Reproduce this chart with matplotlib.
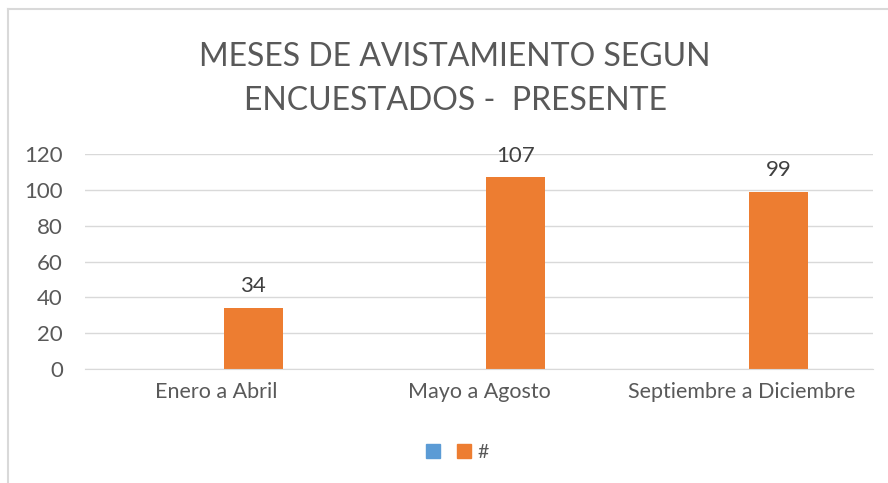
import matplotlib
matplotlib.use("Agg")
import matplotlib.pyplot as plt
import numpy as np
from matplotlib.patches import Patch

# datos
categorias = ["Enero a Abril", "Mayo a Agosto", "Septiembre a Diciembre"]
serie_vacia = [0, 0, 0]
serie_presente = [34, 107, 99]
y_ticks = [0, 20, 40, 60, 80, 100, 120]

AZUL = "#5B9BD5"
NARANJA = "#ED7D31"
GRIS_TXT = "#595959"
GRIS_LINEA = "#D9D9D9"

plt.rcParams["font.family"] = ["Lato", "DejaVu Sans"]

fig = plt.figure(figsize=(8.88, 4.83), dpi=100)
ax = fig.add_axes([85 / 888, 1 - 369 / 483, 788 / 888, 215 / 483])

x = np.arange(len(categorias))
ancho = 0.225
ax.bar(x - 0.14, serie_vacia, ancho, color=AZUL, linewidth=0)
barras = ax.bar(x + 0.14, serie_presente, ancho, color=NARANJA, linewidth=0)

for b, v in zip(barras, serie_presente):
    ax.text(b.get_x() + b.get_width() / 2, v + 6.5, str(v),
            ha="center", va="bottom", fontsize=16, color="#404040")

ax.set_xlim(-0.5, 2.5)
ax.set_ylim(0, 120)
ax.set_yticks(y_ticks)
ax.set_yticklabels([str(t) for t in y_ticks], fontsize=16, color=GRIS_TXT)
ax.set_xticks(x)
ax.set_xticklabels(categorias, fontsize=15.5, color=GRIS_TXT)
ax.tick_params(axis="both", length=0)
ax.tick_params(axis="x", pad=9)
ax.tick_params(axis="y", pad=16)
ax.grid(axis="y", color=GRIS_LINEA, linewidth=1)
ax.set_axisbelow(True)
for s in ["top", "right", "left"]:
    ax.spines[s].set_visible(False)
ax.spines["bottom"].set_color(GRIS_LINEA)

fig.text(455 / 888, 1 - 79 / 483, "MESES DE AVISTAMIENTO SEGUN\nENCUESTADOS -  PRESENTE",
         ha="center", va="center", fontsize=23, color=GRIS_TXT, linespacing=1.6)

handles = [Patch(color=AZUL, label=" "), Patch(color=NARANJA, label="#")]
fig.legend(handles=handles, loc="center", bbox_to_anchor=(457 / 888, 1 - 452 / 483),
           ncol=2, frameon=False, fontsize=14, handlelength=0.75, handleheight=0.75,
           columnspacing=0.3, handletextpad=0.3, labelcolor=GRIS_TXT)

# marco del gráfico
fig.add_artist(plt.Line2D([8 / 888, 8 / 888], [0, 1 - 9 / 483], color=GRIS_LINEA, linewidth=1.5))
fig.add_artist(plt.Line2D([8 / 888, 1], [1 - 9 / 483, 1 - 9 / 483], color=GRIS_LINEA, linewidth=1.5))

fig.savefig("out.png", dpi=100, facecolor="white")
